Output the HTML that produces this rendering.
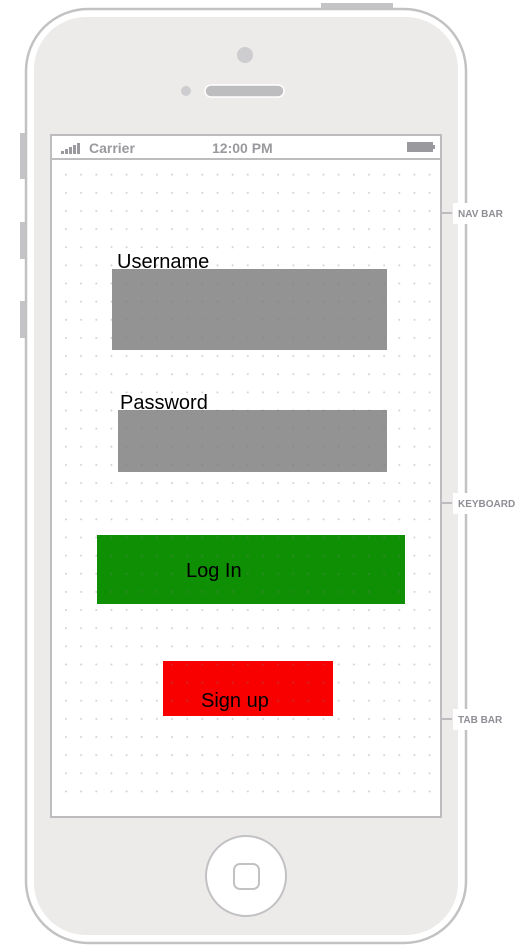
<!DOCTYPE html>
<html><head><meta charset="utf-8"><style>
html,body{margin:0;padding:0;background:#fff;width:518px;height:952px;overflow:hidden}
svg{display:block}
</style></head><body>
<svg width="518" height="952" viewBox="0 0 518 952" xmlns="http://www.w3.org/2000/svg">
<defs>
<pattern id="dots" x="65" y="173.7" width="15.15" height="18.14" patternUnits="userSpaceOnUse">
<circle cx="1" cy="1" r="1" fill="rgba(120,120,120,0.35)"/>
</pattern>
</defs>
<rect x="321" y="3" width="72" height="7" fill="#c4c4c6"/>
<rect x="20" y="133" width="7" height="46" fill="#c4c4c6"/>
<rect x="20" y="222" width="7" height="37" fill="#c4c4c6"/>
<rect x="20" y="301" width="7" height="37" fill="#c4c4c6"/>
<rect x="26" y="9" width="440" height="934" rx="62" fill="#fff" stroke="#c2c2c4" stroke-width="2.5"/>
<rect x="34" y="17" width="424" height="918" rx="52" fill="#ecebe9"/>
<circle cx="245" cy="55" r="8" fill="#cdcdcf"/>
<circle cx="186" cy="91" r="5" fill="#cdcdcf"/>
<rect x="205" y="85" width="79" height="12" rx="6" fill="#bdbdc0" stroke="#fff" stroke-width="1.5"/>
<rect x="51" y="135" width="390" height="682" fill="#fff" stroke="#bdbdc0" stroke-width="2"/>
<line x1="51" y1="159" x2="441" y2="159" stroke="#bdbdc0" stroke-width="2"/>
<g fill="#9a9a9e">
<rect x="61" y="151" width="3" height="3"/><rect x="65" y="149" width="3" height="5"/><rect x="69" y="147" width="3" height="7"/><rect x="73" y="145" width="3" height="9"/><rect x="77" y="143" width="3" height="11"/>
<rect x="407" y="142" width="26" height="10"/><rect x="433" y="145" width="2" height="4"/>
</g>
<text x="89" y="153" font-family="Liberation Sans, sans-serif" font-weight="bold" font-size="14" fill="#9a9a9e">Carrier</text>
<text x="212" y="153" font-family="Liberation Sans, sans-serif" font-weight="bold" font-size="14" fill="#9a9a9e">12:00 PM</text>
<rect x="112" y="269" width="275" height="81" fill="#939393"/>
<rect x="118" y="410" width="269" height="62" fill="#939393"/>
<rect x="97" y="535" width="308" height="69" fill="#0f8f04"/>
<rect x="163" y="661" width="170" height="55" fill="#f90000"/>
<rect x="60" y="168" width="374" height="630" fill="url(#dots)"/>
<g font-family="Liberation Sans, sans-serif" font-size="20" fill="#000">
<text x="117" y="268">Username</text>
<text x="120" y="409">Password</text>
<text x="186" y="577">Log In</text>
<text x="201" y="707">Sign up</text>
</g>
<circle cx="246" cy="876" r="40" fill="#fff" stroke="#c2c2c4" stroke-width="2"/>
<rect x="234" y="864" width="25" height="25" rx="6" fill="#fff" stroke="#c2c2c4" stroke-width="2"/>
<g font-family="Liberation Sans, sans-serif" font-weight="bold" font-size="10" fill="#8e8e94">
<line x1="441" y1="213" x2="452" y2="213" stroke="#bdbdc0" stroke-width="2"/>
<rect x="453" y="203" width="65" height="21" fill="#fff"/>
<text x="458" y="217">NAV BAR</text>
<line x1="441" y1="503" x2="452" y2="503" stroke="#bdbdc0" stroke-width="2"/>
<rect x="453" y="493" width="65" height="21" fill="#fff"/>
<text x="458" y="507">KEYBOARD</text>
<line x1="441" y1="719" x2="452" y2="719" stroke="#bdbdc0" stroke-width="2"/>
<rect x="453" y="709" width="65" height="21" fill="#fff"/>
<text x="458" y="723">TAB BAR</text>
</g>
</svg>
</body></html>
